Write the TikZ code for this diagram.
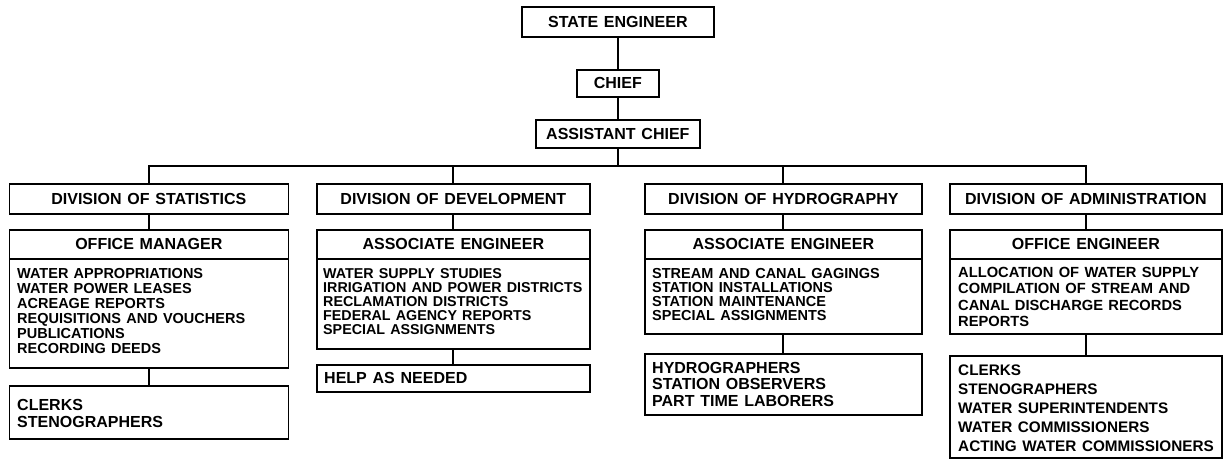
\documentclass[tikz,border=0pt]{standalone}
\usepackage{fontspec}
\setmainfont{Liberation Sans}[WordSpace=1.3]
\usetikzlibrary{calc}
\begin{document}
\begin{tikzpicture}[x=1pt,y=-1pt,
  box/.style={draw, line width=1.7pt, inner sep=0pt, anchor=north west},
  hdr/.style={font=\bfseries\fontsize{16}{16}\selectfont},
  items/.style={font=\bfseries\fontsize{14.5}{#1}\selectfont, align=left, inner sep=0pt, anchor=north west},
  staff/.style={font=\bfseries\fontsize{16}{#1}\selectfont, align=left, inner sep=0pt, anchor=west},
  conn/.style={line width=1.9pt}]
\useasboundingbox (0,0) rectangle (1226,458);
% top chain
\node[box, hdr, minimum width=192pt, minimum height=30pt] (se) at (521,6) {STATE ENGINEER};
\node[box, hdr, minimum width=82pt, minimum height=27pt] (chief) at (576,69) {CHIEF};
\node[box, hdr, minimum width=164pt, minimum height=28pt] (ac) at (535,119) {ASSISTANT CHIEF};
\draw[conn] (se.south) -- (chief.north);
\draw[conn] (chief.south) -- (ac.north);
% divisions
\node[box, hdr, minimum width=279pt, minimum height=30pt] (dst) at (8.5,183) {DIVISION OF STATISTICS};
\node[box, hdr, minimum width=273pt, minimum height=30pt] (ddv) at (316,183) {DIVISION OF DEVELOPMENT};
\node[box, hdr, minimum width=277pt, minimum height=30pt] (dhy) at (644,183) {DIVISION OF HYDROGRAPHY};
\node[box, hdr, minimum width=272pt, minimum height=30pt] (dad) at (949,183) {DIVISION OF ADMINISTRATION};
\path (ac.south) ++(0,17) coordinate (bus);
\draw[conn] (ac.south) -- (bus);
\draw[conn] (dst.north) |- (bus) -| (dad.north);
\draw[conn] (ddv.north) -- (ddv.north |- bus);
\draw[conn] (dhy.north) -- (dhy.north |- bus);
% heads
\node[box, hdr, minimum width=279pt, minimum height=29pt] (hst) at (8.5,229) {OFFICE MANAGER};
\node[box, hdr, minimum width=273pt, minimum height=29pt] (hdv) at (316,229) {ASSOCIATE ENGINEER};
\node[box, hdr, minimum width=277pt, minimum height=29pt] (hhy) at (644,229) {ASSOCIATE ENGINEER};
\node[box, hdr, minimum width=272pt, minimum height=29pt] (had) at (949,229) {OFFICE ENGINEER};
\draw[conn] (dst.south) -- (hst.north);
\draw[conn] (ddv.south) -- (hdv.north);
\draw[conn] (dhy.south) -- (hhy.north);
\draw[conn] (dad.south) -- (had.north);
% item boxes
\node[box, minimum width=279pt, minimum height=109pt] (ist) at (8.5,258) {};
\node[box, minimum width=273pt, minimum height=90pt] (idv) at (316,258) {};
\node[box, minimum width=277pt, minimum height=75pt] (ihy) at (644,258) {};
\node[box, minimum width=272pt, minimum height=75pt] (iad) at (949,258) {};
\node[items=15] (ist-t) at ([shift={(8.5,10)}]ist.north west) {WATER APPROPRIATIONS\\WATER POWER LEASES\\ACREAGE REPORTS\\REQUISITIONS AND VOUCHERS\\PUBLICATIONS\\RECORDING DEEDS};
\node[items=14.2, font=\bfseries\fontsize{14.3}{14.2}\selectfont] (idv-t) at ([shift={(7,10)}]idv.north west) {WATER SUPPLY STUDIES\\IRRIGATION AND POWER DISTRICTS\\RECLAMATION DISTRICTS\\FEDERAL AGENCY REPORTS\\SPECIAL ASSIGNMENTS};
\node[items=14] (ihy-t) at ([shift={(8,10)}]ihy.north west) {STREAM AND CANAL GAGINGS\\STATION INSTALLATIONS\\STATION MAINTENANCE\\SPECIAL ASSIGNMENTS};
\node[items=16.3, font=\bfseries\fontsize{14.7}{16.3}\selectfont] (iad-t) at ([shift={(9,9)}]iad.north west) {ALLOCATION OF WATER SUPPLY\\COMPILATION OF STREAM AND\\CANAL DISCHARGE RECORDS\\REPORTS};
% staff boxes
\node[box, minimum width=279pt, minimum height=53pt] (sst) at (8.5,385) {};
\node[box, minimum width=273pt, minimum height=27pt] (sdv) at (316,364) {};
\node[box, minimum width=277pt, minimum height=61pt] (shy) at (644,353) {};
\node[box, minimum width=272pt, minimum height=102pt] (sad) at (949,355) {};
\draw[conn] (ist.south) -- (sst.north);
\draw[conn] (idv.south) -- (sdv.north);
\draw[conn] (ihy.south) -- (shy.north);
\draw[conn] (iad.south) -- (sad.north);
\node[staff=16.5] (sst-t) at ([shift={(8.5,1)}]sst.west) {CLERKS\\STENOGRAPHERS};
\node[staff=16] (sdv-t) at ([shift={(8,0)}]sdv.west) {HELP AS NEEDED};
\node[staff=16.7] (shy-t) at ([shift={(8,0)}]shy.west) {HYDROGRAPHERS\\STATION OBSERVERS\\PART TIME LABORERS};
\node[staff=19, font=\bfseries\fontsize{15.3}{19}\selectfont] (sad-t) at ([shift={(9,1)}]sad.west) {CLERKS\\STENOGRAPHERS\\WATER SUPERINTENDENTS\\WATER COMMISSIONERS\\ACTING WATER COMMISSIONERS};
\end{tikzpicture}
\end{document}
